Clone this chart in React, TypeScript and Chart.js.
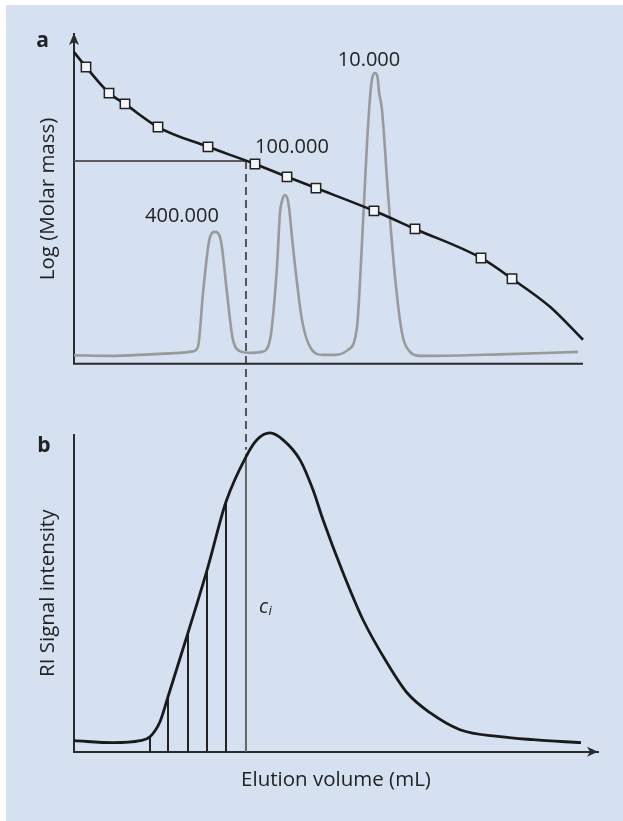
import React, { useEffect, useRef } from 'react';
import { Chart, registerables } from 'chart.js';

Chart.register(...registerables);

// ---------- Panel a: calibration curve (Log molar mass vs elution volume) ----------
const calibX = [0, 2.29, 6.68, 9.73, 16.03, 25.57, 34.54, 40.65, 46.18, 57.25, 65.08, 77.67, 83.59, 90.84, 97.14];
const calibY = [94.5, 90.0, 82.1, 78.8, 71.8, 65.8, 60.6, 56.7, 53.3, 46.4, 40.9, 32.1, 25.8, 17.3, 7.3];

// calibration standards (square markers)
const standardX = [2.29, 6.68, 9.73, 16.03, 25.57, 34.54, 40.65, 46.18, 57.25, 65.08, 77.67, 83.59];
const standardY = [90.0, 82.1, 78.8, 71.8, 65.8, 60.6, 56.7, 53.3, 46.4, 40.9, 32.1, 25.8];

// chromatogram of the three standards (grey trace)
const chromX = [0, 6.87, 14.5, 20.23, 22.71, 23.66, 24.62, 25.44, 25.82, 26.91, 28.0, 28.38, 29.2, 30.34, 32.06, 33.59, 35.88, 37.4, 38.74, 39.31, 39.69, 40.27, 40.84, 41.09, 41.79, 43.51, 45.04, 47.52, 49.81, 52.29, 54.01, 54.96, 55.92, 56.62, 56.97, 57.44, 57.92, 58.21, 58.78, 59.92, 61.26, 62.6, 64.12, 66.03, 67.94, 81.3, 96.18];
const chromY = [2.58, 2.42, 2.88, 3.33, 3.79, 5.15, 21.52, 33.5, 37.6, 40.0, 37.6, 33.5, 21.52, 7.27, 3.64, 3.33, 3.64, 7.27, 29.39, 45.76, 49.4, 51.21, 49.4, 46.67, 35.45, 13.33, 5.15, 2.73, 2.73, 4.24, 11.21, 36.67, 66.97, 83.03, 87.0, 88.18, 87.0, 82.5, 76.97, 51.82, 26.36, 9.39, 3.64, 2.42, 2.42, 2.88, 3.64];

const peakLabels = ['400.000', '100.000', '10.000'];
const peakLabelX = [20.6, 41.6, 56.3];
const peakLabelY = [43.0, 63.9, 90.3];

// read-off point (elution volume -> log M)
const readX = 32.82;
const readLogM = 61.5;
const dashEndY = -26;
const axisAEndX = 97.14;

// ---------- Panel b: RI signal ----------
const riX = [0, 7.44, 12.6, 14.5, 16.41, 17.94, 21.76, 25.57, 29.01, 32.82, 34.92, 37.4, 39.89, 43.13, 45.61, 47.52, 51.34, 55.15, 59.73, 63.55, 67.94, 73.66, 81.3, 87.6, 96.76];
const riY = [3.47, 2.84, 3.47, 4.73, 9.46, 17.35, 37.54, 58.36, 78.86, 93.06, 98.42, 100.6, 98.42, 92.11, 82.65, 73.19, 56.47, 41.64, 28.08, 18.61, 12.3, 6.94, 4.73, 3.79, 2.84];

// slices
const sliceX = [14.5, 17.94, 21.76, 25.38, 29.01];
const sliceH = [4.73, 17.35, 37.54, 58.04, 78.55];
const ciX = 32.82;
const ciH = 94.0;
const ciLabelX = 35.3;
const ciLabelY = 43.85;

const BG = '#d5e0f1';
const INK = '#222222';
const AXIS = '#2b2b2b';
const FONT = '"Open Sans", "Noto Sans", sans-serif';

const pts = (xs: number[], ys: number[]) => xs.map((x, i) => ({ x, y: ys[i] }));

const decorPlugin = {
  id: 'decor',
  beforeDraw(chart: any) {
    const ctx = chart.ctx;
    ctx.save();
    ctx.fillStyle = '#ffffff';
    ctx.fillRect(0, 0, chart.width, chart.height);
    ctx.fillStyle = BG;
    ctx.fillRect(6, 5, chart.width - 6, chart.height - 5);
    ctx.restore();
  },
  afterDraw(chart: any) {
    const { ctx, scales } = chart;
    const x = scales.x, ya = scales.ya, yb = scales.yb;
    const left = chart.chartArea.left;
    ctx.save();
    // panel a horizontal axis
    ctx.strokeStyle = AXIS;
    ctx.lineWidth = 2;
    ctx.beginPath();
    ctx.moveTo(left - 1, ya.bottom);
    ctx.lineTo(x.getPixelForValue(axisAEndX), ya.bottom);
    ctx.stroke();

    // arrow heads
    ctx.fillStyle = AXIS;
    const ax = left;
    const at = ya.top;
    ctx.beginPath();
    ctx.moveTo(ax, at - 1);
    ctx.lineTo(ax - 5, at + 11);
    ctx.lineTo(ax, at + 8);
    ctx.lineTo(ax + 5, at + 11);
    ctx.closePath();
    ctx.fill();
    const bx = x.right;
    const by = x.top;
    ctx.beginPath();
    ctx.moveTo(bx, by);
    ctx.lineTo(bx - 11, by - 5);
    ctx.lineTo(bx - 8, by);
    ctx.lineTo(bx - 11, by + 5);
    ctx.closePath();
    ctx.fill();

    // peak labels
    ctx.fillStyle = INK;
    ctx.font = `20px ${FONT}`;
    ctx.textAlign = 'center';
    ctx.textBaseline = 'alphabetic';
    peakLabels.forEach((t, i) => {
      ctx.fillText(t, x.getPixelForValue(peakLabelX[i]), ya.getPixelForValue(peakLabelY[i]));
    });

    // panel letters
    ctx.font = `bold 21px ${FONT}`;
    ctx.fillText('a', left - 31.5, ya.top + 13);
    ctx.fillText('b', left - 30, yb.top + 17);

    // c_i label
    ctx.textAlign = 'left';
    const cx = x.getPixelForValue(ciLabelX);
    const cy = yb.getPixelForValue(ciLabelY);
    ctx.font = `italic 20px ${FONT}`;
    ctx.fillText('c', cx, cy);
    const w = ctx.measureText('c').width;
    ctx.font = `italic 13px ${FONT}`;
    ctx.fillText('i', cx + w + 0.5, cy + 2);
    ctx.restore();
  },
};

export default function App() {
  const ref = useRef<HTMLCanvasElement>(null);

  useEffect(() => {
    if (!ref.current) return;
    Chart.defaults.font.family = FONT;

    const sliceSets = sliceX.map((sx, i) => ({
      data: [{ x: sx, y: 0 }, { x: sx, y: sliceH[i] }],
      yAxisID: 'yb',
      borderColor: INK,
      borderWidth: 2,
      pointRadius: 0,
      clip: false,
    }));

    const noGrid = { display: false, drawTicks: false };
    const titleFont = { size: 20.5, family: FONT };

    const chart = new Chart(ref.current, {
      type: 'line',
      data: {
        datasets: [
          {
            data: pts(standardX, standardY),
            yAxisID: 'ya',
            showLine: false,
            pointStyle: 'rect',
            pointRadius: 6.6,
            pointBackgroundColor: '#f2f5fa',
            pointBorderColor: INK,
            pointBorderWidth: 1.5,
            clip: false,
          },
          {
            data: pts(calibX, calibY),
            yAxisID: 'ya',
            borderColor: '#1a1a1a',
            borderWidth: 2.6,
            pointRadius: 0,
            cubicInterpolationMode: 'monotone',
            clip: false,
          },
          {
            data: pts(chromX, chromY),
            yAxisID: 'ya',
            borderColor: '#9a9a9a',
            borderWidth: 2.6,
            pointRadius: 0,
            cubicInterpolationMode: 'monotone',
            clip: false,
          },
          {
            data: [{ x: 0, y: readLogM }, { x: readX, y: readLogM }],
            yAxisID: 'ya',
            borderColor: '#5c5c5c',
            borderWidth: 2,
            pointRadius: 0,
            clip: false,
          },
          {
            data: [{ x: readX, y: readLogM }, { x: readX, y: dashEndY }],
            yAxisID: 'ya',
            borderColor: '#555555',
            borderWidth: 2,
            borderDash: [8, 5],
            pointRadius: 0,
            clip: false,
          },
          {
            data: pts(riX, riY),
            yAxisID: 'yb',
            borderColor: '#1a1a1a',
            borderWidth: 2.8,
            pointRadius: 0,
            cubicInterpolationMode: 'monotone',
            clip: false,
          },
          ...sliceSets,
          {
            data: [{ x: ciX, y: 0 }, { x: ciX, y: ciH }],
            yAxisID: 'yb',
            borderColor: '#666666',
            borderWidth: 2,
            pointRadius: 0,
            clip: false,
          },
        ] as any,
      },
      options: {
        responsive: false,
        animation: false,
        events: [],
        layout: { padding: { left: 28, top: 34, right: 25, bottom: 25 } },
        plugins: { legend: { display: false }, tooltip: { enabled: false } },
        scales: {
          x: {
            type: 'linear',
            min: 0,
            max: 100,
            ticks: { display: false },
            grid: noGrid,
            border: { display: true, color: AXIS, width: 2 },
            title: {
              display: true,
              text: 'Elution volume (mL)',
              color: INK,
              font: titleFont,
              padding: { top: 15.7, bottom: 4 },
            },
          },
          ya: {
            type: 'linear',
            axis: 'y',
            position: 'left',
            stack: 'panels',
            stackWeight: 330,
            weight: 3,
            min: 0,
            max: 100,
            ticks: { display: false },
            grid: noGrid,
            border: { display: true, color: AXIS, width: 2 },
            title: {
              display: true,
              text: 'Log (Molar mass)',
              color: INK,
              font: titleFont,
              padding: { top: 7.7, bottom: 13.7 },
            },
          },
          spacer: {
            type: 'linear',
            axis: 'y',
            position: 'left',
            stack: 'panels',
            stackWeight: 71,
            weight: 2,
            min: 0,
            max: 1,
            ticks: { display: false },
            grid: noGrid,
            border: { display: false },
          },
          yb: {
            type: 'linear',
            axis: 'y',
            position: 'left',
            stack: 'panels',
            stackWeight: 317,
            weight: 1,
            min: 0,
            max: 100,
            ticks: { display: false },
            grid: noGrid,
            border: { display: true, color: AXIS, width: 2 },
            title: {
              display: true,
              text: 'RI Signal intensity',
              color: INK,
              font: titleFont,
              padding: { top: 7.7, bottom: 13.7 },
            },
          },
        } as any,
      },
      plugins: [decorPlugin],
    });

    return () => chart.destroy();
  }, []);

  return (
    <canvas
      ref={ref}
      width={623}
      height={821}
      style={{ position: 'fixed', left: 0, top: 0, display: 'block' }}
    />
  );
}
